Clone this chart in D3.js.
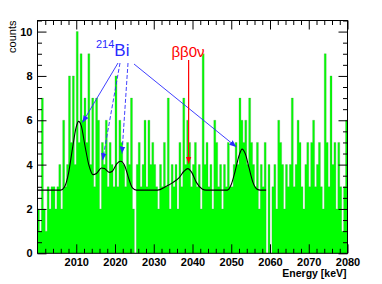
<!DOCTYPE html>
<html>
<head>
<meta charset="utf-8">
<script src="https://cdn.jsdelivr.net/npm/d3@7"></script>
<style>
  body { margin: 0; background: #fff; }
  text { font-family: "Liberation Sans", Arial, sans-serif; }
</style>
</head>
<body>
<div id="chart"></div>
<script>
// histogram: 0.5 keV bins starting at 2000 keV
const binStart = 2000, binWidth = 0.5;
const counts = [
  2,1,7,2,1,3,2,3,3,2,   3,4,2,6,3,4,8,5,8,4,
  10,5,9,6,7,5,9,4,7,3,  7,6,2,5,4,6,3,5,4,3,
  8,3,6,5,4,3,5,4,7,2,   0,4,5,3,4,6,3,6,4,5,
  4,3,2,4,3,5,3,7,2,4,   3,4,2,5,3,7,4,6,5,3,
  4,5,3,4,2,9,4,5,3,4,   2,6,5,3,4,2,4,3,5,3,
  3,4,5,4,7,6,5,6,4,7,   5,4,3,5,2,4,3,5,0,4,
  0,3,4,2,6,5,4,2,4,3,   4,7,3,4,6,5,3,2,4,5,
  3,5,6,3,4,5,3,2,9,5,   3,8,4,5,2,5,3,1,3,6
];

// fit curve
const fitE = [2000, 2006, 2007, 2008, 2009, 2010, 2010.6, 2011.3, 2012.3, 2013.3, 2014.3, 2015.2,
  2016.5, 2017.3, 2018.5, 2019.3, 2020.5, 2021.5, 2022.5, 2023.5, 2024.5, 2025.5, 2031, 2033, 2035,
  2036.5, 2037.8, 2038.8, 2039.8, 2041, 2042.5, 2043.5, 2049, 2050, 2051, 2052, 2052.8, 2053.6,
  2054.6, 2055.6, 2056.6, 2057.5, 2059];
const fitC = [2.85, 2.85, 3.0, 3.6, 4.7, 5.7, 5.95, 5.75, 4.8, 3.95, 3.55, 3.6,
  3.85, 3.82, 3.65, 3.7, 4.05, 4.15, 3.95, 3.4, 2.95, 2.85, 2.85, 3.0, 3.2,
  3.4, 3.7, 3.82, 3.65, 3.2, 2.9, 2.85, 2.85, 3.1, 3.7, 4.4, 4.7, 4.5,
  3.85, 3.2, 2.9, 2.85, 2.85];

const xMajor = [2010, 2020, 2030, 2040, 2050, 2060, 2070, 2080];
const yMajor = [0, 2, 4, 6, 8, 10];

const width = 382, height = 284;
const x = d3.scaleLinear().domain([2000, 2080]).range([37.5, 347.5]);
const y = d3.scaleLinear().domain([0, 10.5]).range([253.3, 20.5]);

const svg = d3.select('#chart').append('svg')
  .attr('width', width)
  .attr('height', height);

const bins = counts.map((c, i) => ({e0: binStart + i * binWidth, e1: binStart + (i + 1) * binWidth, c: c}));

const g = svg.append('g');

// step outline of the histogram
let pts = [[x(binStart), y(0)]];
bins.forEach(d => { pts.push([x(d.e0), y(d.c)]); pts.push([x(d.e1), y(d.c)]); });
pts.push([x(2080), y(0)]);

g.append('path')
  .attr('d', d3.line()(pts) + 'Z')
  .attr('fill', '#00ff00');

g.append('path')
  .attr('d', d3.line()(pts))
  .attr('fill', 'none')
  .attr('stroke', '#3f9a3f')
  .attr('stroke-opacity', 0.55)
  .attr('stroke-width', 0.5);

// fit
g.append('path')
  .datum(fitE.map((e, i) => [e, fitC[i]]))
  .attr('d', d3.line().x(d => x(d[0])).y(d => y(d[1])).curve(d3.curveMonotoneX))
  .attr('fill', 'none')
  .attr('stroke', '#000')
  .attr('stroke-width', 1.1);

// axes, ROOT style ticks inside
const xMinor = d3.range(2000, 2081, 2).filter(v => v % 10 != 0);
const yMinor = d3.range(0, 10.51, 0.5).filter(v => v % 2 != 0);

function ax(axis, tr, vals, size, labels) {
  const a = svg.append('g').attr('transform', tr)
    .call(axis.tickValues(vals).tickSize(size).tickSizeOuter(0).tickPadding(labels ? 5 : 0).tickFormat(labels ? d3.format('d') : ''));
  a.select('.domain').remove();
  a.selectAll('line').attr('stroke', '#000');
  a.selectAll('text').attr('font-size', 11).attr('font-weight', 'bold').attr('fill', '#000');
  return a;
}
const b = y(0), t = y(10.5), l = x(2000), r = x(2080);
ax(d3.axisBottom(x), `translate(0,${b})`, xMajor, -9, true);
ax(d3.axisBottom(x), `translate(0,${b})`, xMinor, -4.5, false);
ax(d3.axisTop(x), `translate(0,${t})`, xMajor, -9, false);
ax(d3.axisTop(x), `translate(0,${t})`, xMinor, -4.5, false);
ax(d3.axisLeft(y), `translate(${l},0)`, yMajor, -9, true);
ax(d3.axisLeft(y), `translate(${l},0)`, yMinor, -4.5, false);
ax(d3.axisRight(y), `translate(${r},0)`, yMajor, -9, false);
ax(d3.axisRight(y), `translate(${r},0)`, yMinor, -4.5, false);

svg.append('rect')
  .attr('x', l).attr('y', t).attr('width', r - l).attr('height', b - t)
  .attr('fill', 'none').attr('stroke', '#000').attr('stroke-width', 1);

svg.append('text')
  .attr('transform', `translate(16,${t}) rotate(-90)`)
  .attr('text-anchor', 'end')
  .attr('font-size', 11)
  .text('counts');

svg.append('text')
  .attr('x', r - 1).attr('y', 277)
  .attr('text-anchor', 'end')
  .attr('font-size', 10.5)
  .attr('font-weight', 'bold')
  .text('Energy [keV]');

// annotations
const defs = svg.append('defs');
[['blueHead', '#2a2aff'], ['redHead', '#ff0000']].forEach(([id, c]) => {
  defs.append('marker')
    .attr('id', id).attr('viewBox', '0 0 10 10').attr('refX', 10).attr('refY', 5)
    .attr('markerWidth', 7).attr('markerHeight', 7).attr('markerUnits', 'userSpaceOnUse')
    .attr('orient', 'auto')
    .append('path').attr('d', 'M0,1 L10,5 L0,9 Z').attr('fill', c);
});

const bi = svg.append('text').attr('x', 96).attr('y', 56).attr('fill', '#2a2aff');
bi.append('tspan').attr('font-size', 11).attr('dy', -8).text('214');
bi.append('tspan').attr('font-size', 17).attr('dy', 8).text('Bi');

const biArrows = [
  {x0: 118, y0: 63, e: 2011.6, c: 5.9, dash: null},
  {x0: 120, y0: 63, e: 2016.8, c: 4.2, dash: '4,2'},
  {x0: 128, y0: 63, e: 2021.8, c: 4.5, dash: '4,2'},
  {x0: 134, y0: 64, e: 2051.3, c: 4.8, dash: null}
];
svg.selectAll('line.bi')
  .data(biArrows)
  .join('line')
  .attr('class', 'bi')
  .attr('x1', d => d.x0).attr('y1', d => d.y0)
  .attr('x2', d => x(d.e)).attr('y2', d => y(d.c))
  .attr('stroke', '#2a2aff').attr('stroke-width', 0.9)
  .attr('stroke-dasharray', d => d.dash)
  .attr('marker-end', 'url(#blueHead)');

svg.append('text')
  .attr('x', 188).attr('y', 57)
  .attr('text-anchor', 'middle')
  .attr('font-size', 15)
  .attr('fill', '#ff0000')
  .text('ββ0ν');

svg.append('line')
  .attr('x1', x(2039)).attr('y1', 60)
  .attr('x2', x(2039)).attr('y2', y(4.05))
  .attr('stroke', '#ff0000').attr('stroke-width', 1.2)
  .attr('marker-end', 'url(#redHead)');
</script>
</body>
</html>
